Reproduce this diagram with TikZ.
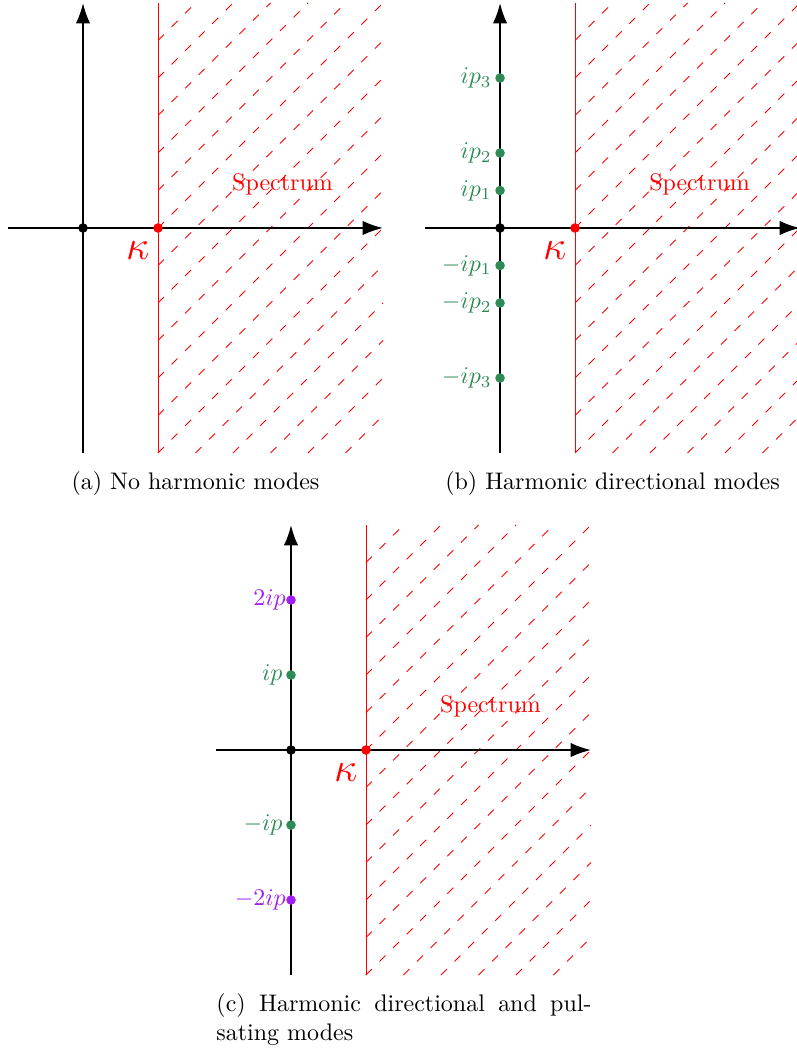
\documentclass[tikz,border=0pt]{standalone}
\usepackage{amsmath,amssymb}
\usepackage{tikz}
\usetikzlibrary{arrows.meta}
\definecolor{modegreen}{RGB}{46,139,87}
\definecolor{modepurple}{RGB}{160,32,240}

\begin{document}
\begin{tikzpicture}[
    x=1.1cm, y=1.1cm,
    axis/.style={thick, -{Latex[length=8.5pt,width=6pt]}},
    bound/.style={red},
    hatch/.style={red, dash pattern=on 3.5pt off 4.5pt},
    dot/.style={circle, fill, inner sep=0pt, minimum size=4pt},
    captext/.style={anchor=base, inner sep=0pt}
  ]
    \useasboundingbox (-1.107,-10.973) rectangle (9.507,3.04);
    \foreach \sx/\sy/\p in {0/0/a, 5.56/0/b, 2.773/-6.96/c}{
      \begin{scope}[shift={(\sx,\sy)}]
        \foreach \c in {-5.5,-5,...,2.5}{
          \pgfmathsetmacro\xa{max(1,-2-\c)}
          \pgfmathsetmacro\ya{max(-3,\c)}
          \pgfmathsetmacro\xb{min(4,4-\c)}
          \pgfmathsetmacro\yb{min(3,3+\c)}
          \draw[hatch] (\xa,\ya) -- (\xb,\yb);
        }
        \draw[bound] (1,-3) -- (1,3);
        \draw[axis] (-1,0) -- (4,0);
        \draw[axis] (0,-3) -- (0,3);
        \node[dot] (O\p) at (0,0) {};
        \node[dot, red] (K\p) at (1,0) {};
        \node[below left, red, yshift=-2pt] (k\p) at (K\p) {\LARGE$\kappa$};
        \node[anchor=base, red] (S\p) at (2.66,0.5) {Spectrum};
      \end{scope}
    }
    \begin{scope}[shift={(5.56,0)}]
      \node[dot, modegreen] (p1) at (0,0.5) {};
      \node[dot, modegreen] (p2) at (0,1) {};
      \node[dot, modegreen] (p3) at (0,2) {};
      \node[dot, modegreen] (m1) at (0,-0.5) {};
      \node[dot, modegreen] (m2) at (0,-1) {};
      \node[dot, modegreen] (m3) at (0,-2) {};
      \node[left, modegreen] (lp1) at (p1) {$ip_1$};
      \node[left, modegreen] (lp2) at (p2) {$ip_2$};
      \node[left, modegreen] (lp3) at (p3) {$ip_3$};
      \node[left, modegreen] (lm1) at (m1) {$-ip_1$};
      \node[left, modegreen] (lm2) at (m2) {$-ip_2$};
      \node[left, modegreen] (lm3) at (m3) {$-ip_3$};
    \end{scope}
    \begin{scope}[shift={(2.773,-6.96)}]
      \node[dot, modepurple] (q2) at (0,2) {};
      \node[dot, modegreen] (q1) at (0,1) {};
      \node[dot, modegreen] (n1) at (0,-1) {};
      \node[dot, modepurple] (n2) at (0,-2) {};
      \node[left, modepurple, inner sep=2pt] (lq2) at (q2) {$2ip$};
      \node[left, modegreen] (lq1) at (q1) {$ip$};
      \node[left, modegreen] (ln1) at (n1) {$-ip$};
      \node[left, modepurple, inner sep=2pt] (ln2) at (n2) {$-2ip$};
    \end{scope}
    \node[captext] (capa) at (1.5,-3.49) {(a) No harmonic modes};
    \node[captext] (capb) at (7.06,-3.49) {(b) Harmonic directional modes};
    \node[anchor=base west, inner sep=0pt, text width=5.5cm, align=justify] (capc)
      at (1.773,-10.45) {(c) Harmonic directional and pul-\linebreak sating modes};
  \end{tikzpicture}
\end{document}
